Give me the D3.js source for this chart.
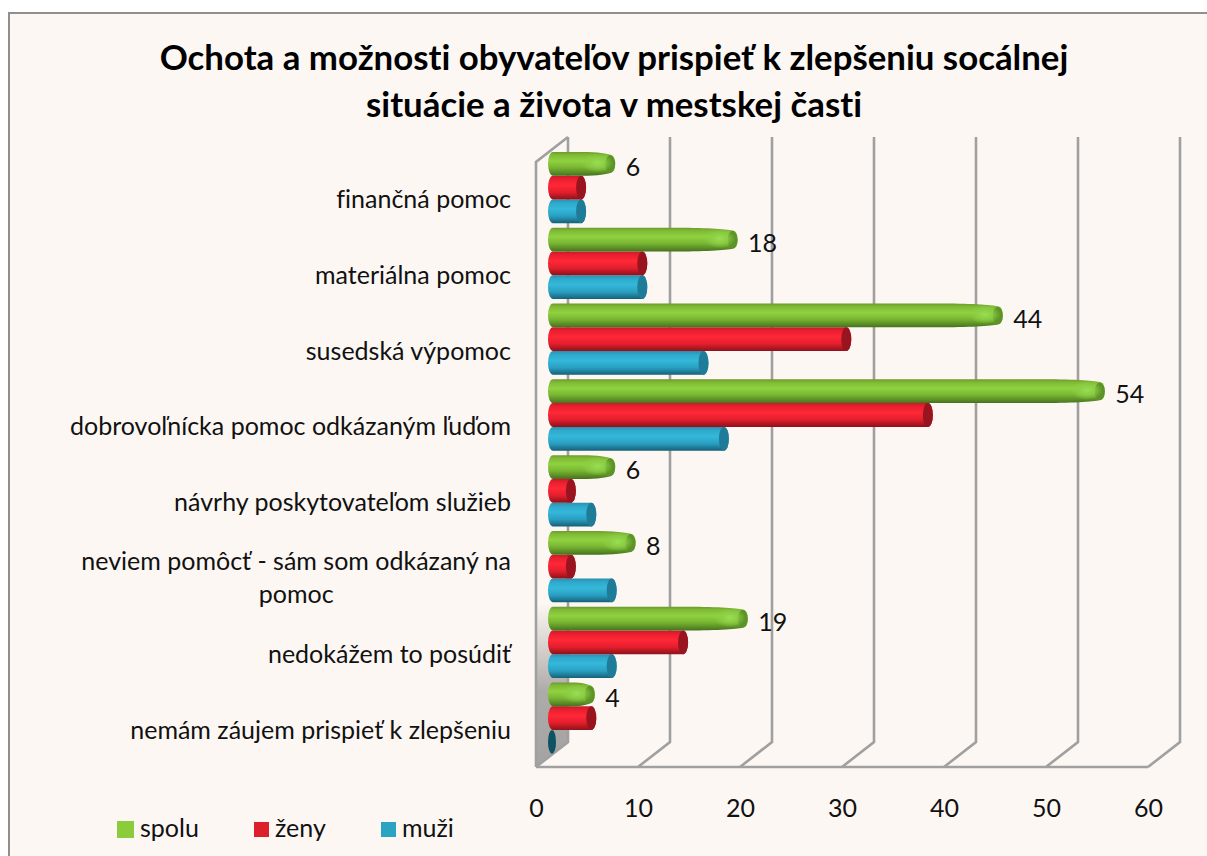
<!DOCTYPE html>
<html>
<head>
<meta charset="utf-8">
<script src="https://d3js.org/d3.v7.min.js"></script>
<style>
html, body { margin: 0; padding: 0; background: #fff; }
svg { display: block; font-family: Lato, sans-serif; font-variant-ligatures: none; }
</style>
</head>
<body>
<div id="chart"></div>
<script>
// data
var categories = [
    "finančná pomoc",
    "materiálna pomoc",
    "susedská výpomoc",
    "dobrovoľnícka pomoc odkázaným ľuďom",
    "návrhy poskytovateľom služieb",
    "neviem pomôcť - sám som odkázaný na\npomoc",
    "nedokážem to posúdiť",
    "nemám záujem prispieť k zlepšeniu"
];
var spolu = [6, 18, 44, 54, 6, 8, 19, 4];
var zeny = [3, 9, 29, 37, 2, 2, 13, 4];
var muzi = [3, 9, 15, 17, 4, 6, 6, 0];
var seriesNames = ["spolu", "ženy", "muži"];
var ticks = [0, 10, 20, 30, 40, 50, 60];
var titleLines = [
    "Ochota a možnosti obyvateľov prispieť k zlepšeniu socálnej",
    "situácie a života v mestskej časti"
];

var w = 1207, h = 856;
var depthX = 32, depthY = 25; // posun zadnej steny
var wallTop = 137, wallBottom = 767;
var labelSize = 25;

var svg = d3.select("#chart").append("svg").attr("width", w).attr("height", h);
var defs = svg.append("defs");

function gradient(id, stops) {
    var g = defs.append("linearGradient").attr("id", id)
        .attr("x1", 0).attr("y1", 0).attr("x2", 0).attr("y2", 1);
    stops.forEach(function (s) {
        g.append("stop").attr("offset", s[0]).attr("stop-color", s[1]);
    });
}
gradient("g0", [[0, "#6d9a2c"], [0.12, "#7fb934"], [0.38, "#8fd240"], [0.65, "#79b632"], [0.88, "#588a25"], [1, "#47701c"]]);
gradient("g1", [[0, "#c81b2a"], [0.15, "#ea1f2f"], [0.4, "#ff2837"], [0.7, "#e31e2d"], [0.9, "#a8161f"], [1, "#8f121b"]]);
gradient("g2", [[0, "#2a8fb0"], [0.15, "#2ea9cb"], [0.4, "#34b8da"], [0.7, "#2a9fc2"], [0.9, "#1c7690"], [1, "#175f75"]]);

var wallGrad = defs.append("linearGradient").attr("id", "wall")
    .attr("x1", 0).attr("y1", 0).attr("x2", 0).attr("y2", 1);
wallGrad.append("stop").attr("offset", 0.74).attr("stop-color", "#a5a3a1").attr("stop-opacity", 0);
wallGrad.append("stop").attr("offset", 0.88).attr("stop-color", "#a5a3a1").attr("stop-opacity", 0.9);
wallGrad.append("stop").attr("offset", 1).attr("stop-color", "#a5a3a1").attr("stop-opacity", 1);

var tipGrad = defs.append("radialGradient").attr("id", "tip");
tipGrad.append("stop").attr("offset", 0).attr("stop-color", "#9ade52").attr("stop-opacity", 1);
tipGrad.append("stop").attr("offset", 0.5).attr("stop-color", "#8dd046").attr("stop-opacity", 0.8);
tipGrad.append("stop").attr("offset", 1).attr("stop-color", "#8dd046").attr("stop-opacity", 0);

// pozadie a ram
svg.append("rect").attr("x", 9).attr("y", 13).attr("width", w - 9).attr("height", h - 13).attr("fill", "#fcf7f3");
svg.append("path").attr("d", "M9," + h + "V13H" + w).attr("fill", "none").attr("stroke", "#8f8f8f").attr("stroke-width", 2);

// skaly
var x = d3.scaleLinear().domain([0, 60]).range([536, 1148]);
var barLen = d3.scaleLinear().domain([0, 60]).range([6, 618]);
var y0 = d3.scaleBand().domain(categories).range([149.7, 756.1]).paddingInner(0.06).paddingOuter(0.03);
var y1 = d3.scaleBand().domain(seriesNames).range([0, y0.bandwidth()]);
var barStart = 548;

// bocna stena
svg.append("path")
    .attr("d", "M" + x(0) + "," + (wallTop + depthY) + "L" + (x(0) + depthX) + "," + wallTop +
        "V" + (wallBottom - depthY) + "L" + x(0) + "," + wallBottom + "Z")
    .attr("fill", "url(#wall)");

// mriezka
var gridStroke = "#a0a0a0";
var gridWidth = 2.6;
svg.append("g").selectAll("path").data(ticks).enter().append("path")
    .attr("d", function (d) {
        return "M" + (x(d) + depthX) + "," + wallTop + "V" + (wallBottom - depthY) + "L" + x(d) + "," + wallBottom;
    })
    .attr("fill", "none").attr("stroke", gridStroke).attr("stroke-width", gridWidth);
svg.append("path")
    .attr("d", "M" + x(0) + "," + wallBottom + "H" + x(60))
    .attr("stroke", gridStroke).attr("stroke-width", gridWidth);
svg.append("path")
    .attr("d", "M" + (x(0) + depthX) + "," + wallTop + "L" + x(0) + "," + (wallTop + depthY) + "V" + wallBottom)
    .attr("fill", "none").attr("stroke", gridStroke).attr("stroke-width", gridWidth);

// vodorovna os
var axis = svg.append("g")
    .attr("transform", "translate(0,799)")
    .call(d3.axisBottom(x).tickValues(ticks).tickSize(0).tickPadding(0));
axis.select(".domain").remove();
axis.selectAll("text").attr("font-family", "Lato, sans-serif").attr("font-size", labelSize).attr("fill", "#111");

// valce, pre spolu zaobleny koniec
function cylinder(len, yTop, bh) {
    var rx = 5, xl = barStart, xr = barStart + len + 1.5, yb = yTop + bh;
    return "M" + (xl + rx) + "," + yTop + "H" + (xr - rx) +
        "A" + rx + "," + (bh / 2) + " 0 0 1 " + (xr - rx) + "," + yb +
        "H" + (xl + rx) +
        "A" + rx + "," + (bh / 2) + " 0 0 1 " + (xl + rx) + "," + yTop + "Z";
}
function bullet(len, yTop, bh) {
    var rx = 5, xl = barStart, xr = barStart + len, yb = yTop + bh;
    var taper = Math.min(60, len * 0.5);
    return "M" + (xl + rx) + "," + yTop + "H" + (xr - taper) +
        "C" + (xr - taper * 0.5) + "," + yTop + " " + (xr - 8) + "," + (yTop + 1.5) + " " + (xr - 4) + "," + (yTop + 3) +
        "Q" + xr + "," + (yTop + 4.5) + " " + xr + "," + (yTop + bh / 2) +
        "Q" + xr + "," + (yb - 4.5) + " " + (xr - 4) + "," + (yb - 3) +
        "C" + (xr - 8) + "," + (yb - 1.5) + " " + (xr - taper * 0.5) + "," + yb + " " + (xr - taper) + "," + yb +
        "H" + (xl + rx) +
        "A" + rx + "," + (bh / 2) + " 0 0 1 " + (xl + rx) + "," + yTop + "Z";
}

var rows = [];
categories.forEach(function (c, i) {
    rows.push({ cat: c, s: "muži", v: muzi[i], idx: 2 });
    rows.push({ cat: c, s: "ženy", v: zeny[i], idx: 1 });
    rows.push({ cat: c, s: "spolu", v: spolu[i], idx: 0 });
});
var capColor = ["#5d9427", "#98141f", "#1f7c98"];

var bars = svg.append("g").selectAll("g").data(rows).enter().append("g");
bars.filter(function (d) { return d.v > 0; }).append("path")
    .attr("d", function (d) {
        var yt = y0(d.cat) + y1(d.s), bh = y1.bandwidth();
        return d.idx === 0 ? bullet(barLen(d.v), yt, bh) : cylinder(barLen(d.v), yt, bh);
    })
    .attr("fill", function (d) { return "url(#g" + d.idx + ")"; });
// vrch valca
bars.filter(function (d) { return d.idx > 0 && d.v > 0; }).append("ellipse")
    .attr("cx", function (d) { return barStart + barLen(d.v) + 1.5 - 5; })
    .attr("cy", function (d) { return y0(d.cat) + y1(d.s) + y1.bandwidth() / 2; })
    .attr("rx", 5).attr("ry", y1.bandwidth() / 2)
    .attr("fill", function (d) { return capColor[d.idx]; });
// tmavy okraj a svetly koniec pri spolu
bars.filter(function (d) { return d.idx === 0; }).append("ellipse")
    .attr("cx", function (d) { return barStart + barLen(d.v) - 5; })
    .attr("cy", function (d) { return y0(d.cat) + y1(d.s) + y1.bandwidth() / 2; })
    .attr("rx", 5).attr("ry", y1.bandwidth() * 0.37)
    .attr("fill", capColor[0]);
bars.filter(function (d) { return d.idx === 0; }).append("ellipse")
    .attr("cx", function (d) { return barStart + barLen(d.v) - 18; })
    .attr("cy", function (d) { return y0(d.cat) + y1(d.s) + y1.bandwidth() * 0.46; })
    .attr("rx", 16).attr("ry", y1.bandwidth() * 0.4)
    .attr("fill", "url(#tip)");
// nulova hodnota
bars.filter(function (d) { return d.v === 0; }).append("ellipse")
    .attr("cx", barStart + 4)
    .attr("cy", function (d) { return y0(d.cat) + y1(d.s) + y1.bandwidth() / 2; })
    .attr("rx", 4).attr("ry", y1.bandwidth() / 2)
    .attr("fill", "#0f5363");

// hodnoty pri spolu
svg.append("g").selectAll("text").data(categories).enter().append("text")
    .attr("x", function (d, i) { return barStart + barLen(spolu[i]) + 10.5; })
    .attr("y", function (d) { return y0(d) + y1("spolu") + 24; })
    .attr("font-size", labelSize).attr("fill", "#111")
    .text(function (d, i) { return spolu[i]; });

// popisy kategorii
var catLabels = svg.append("g").selectAll("text").data(categories).enter().append("text")
    .attr("font-size", labelSize).attr("fill", "#111");
catLabels.each(function (d) {
    var lines = d.split("\n");
    var el = d3.select(this);
    var base = y0(d) + 56;
    if (lines.length === 1) {
        el.attr("x", 511).attr("y", base).attr("text-anchor", "end").text(d);
        return;
    }
    // dva riadky, druhy je centrovany pod prvym
    var first = el.append("tspan").attr("x", 511).attr("y", base - 17).attr("text-anchor", "end").text(lines[0]);
    var wd = first.node().getComputedTextLength();
    el.append("tspan").attr("x", 511 - wd / 2).attr("y", base + 16).attr("text-anchor", "middle").text(lines[1]);
});

// nadpis
svg.append("g").selectAll("text").data(titleLines).enter().append("text")
    .attr("x", 614)
    .attr("y", function (d, i) { return 70 + i * 47; })
    .attr("text-anchor", "middle")
    .attr("font-size", 34.8).attr("font-weight", 700).attr("fill", "#000")
    .text(function (d) { return d; });

// legenda
var legendColor = ["#8acc3c", "#dc1f2b", "#2ba3c3"];
var legendX = d3.scaleOrdinal().domain(seriesNames).range([117, 254, 381]);
var legendSize = [17, 15, 15];
var legend = svg.append("g").selectAll("g").data(seriesNames).enter().append("g");
legend.append("rect")
    .attr("x", function (d) { return legendX(d); })
    .attr("y", function (d, i) { return 829.5 - legendSize[i] / 2; })
    .attr("width", function (d, i) { return legendSize[i]; })
    .attr("height", function (d, i) { return legendSize[i]; })
    .attr("fill", function (d, i) { return legendColor[i]; });
legend.append("text")
    .attr("x", function (d, i) { return legendX(d) + legendSize[i] + 6; })
    .attr("y", 837)
    .attr("font-size", labelSize).attr("fill", "#111")
    .text(function (d) { return d; });
</script>
</body>
</html>
